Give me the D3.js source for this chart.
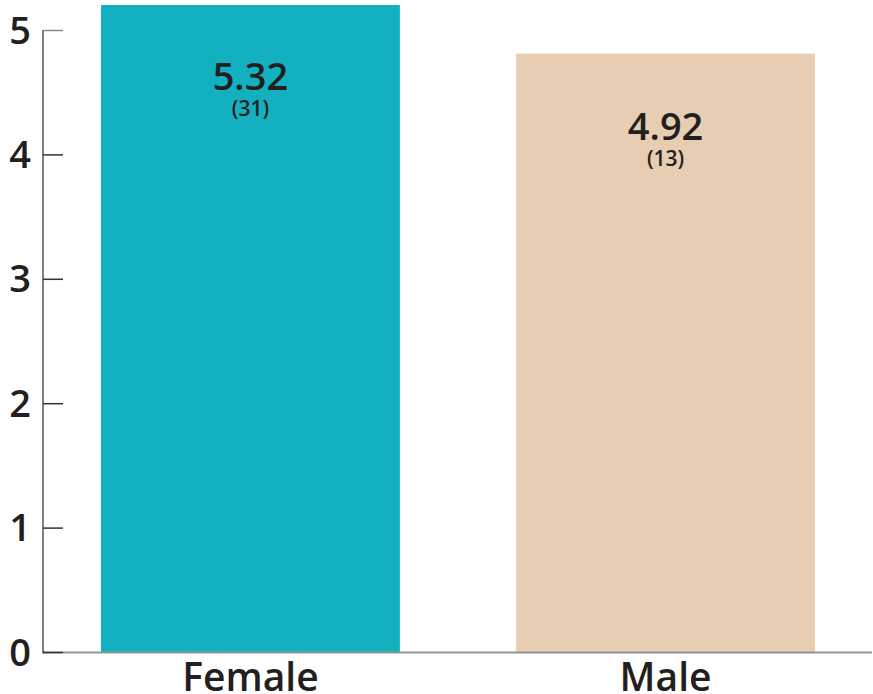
<!DOCTYPE html>
<html>
<head>
<meta charset="utf-8">
<script src="https://cdn.jsdelivr.net/npm/d3@7"></script>
<style>
  html, body { margin: 0; padding: 0; background: #fff; }
  svg { display: block; font-family: "Open Sans", "Noto Sans", sans-serif; }
</style>
</head>
<body>
<div id="chart"></div>
<script>
// data
const categories = ["Female", "Male"];
const means = [5.32, 4.92];
const counts = [31, 13];
const barColors = ["#13b1bf", "#e7cdb1"];
const yTicks = [0, 1, 2, 3, 4, 5];

const width = 873, height = 694;
const svg = d3.select("#chart").append("svg")
  .attr("width", width).attr("height", height);

const x = d3.scaleBand().domain(categories).range([101, 815]).paddingInner(0.28).paddingOuter(0);

// axis scale and bar scale differ slightly in the original
const yAxisScale = d3.scaleLinear().domain([0, 5]).range([652, 30]);
const yBar = d3.scaleLinear().domain([0, 5.32]).range([652, 5]);

// bars
svg.append("g").selectAll("rect")
  .data(categories)
  .join("rect")
  .attr("x", d => x(d))
  .attr("width", x.bandwidth())
  .attr("y", (d, i) => yBar(means[i]))
  .attr("height", (d, i) => yBar(0) - yBar(means[i]))
  .attr("fill", (d, i) => barColors[i]);

// value labels
const lbl = svg.append("g").attr("fill", "#231f20").attr("text-anchor", "middle");
lbl.selectAll("text.val")
  .data(categories)
  .join("text")
  .attr("class", "val")
  .attr("x", d => x(d) + x.bandwidth() / 2)
  .attr("y", (d, i) => yAxisScale(means[i]) + 100)
  .attr("font-size", 38)
  .attr("font-weight", 600)
  .text((d, i) => means[i].toFixed(2));
lbl.selectAll("text.cnt")
  .data(categories)
  .join("text")
  .attr("class", "cnt")
  .attr("x", d => x(d) + x.bandwidth() / 2)
  .attr("y", (d, i) => yAxisScale(means[i]) + 126)
  .attr("font-size", 21)
  .attr("font-weight", 600)
  .text((d, i) => `(${counts[i]})`);

// baseline
svg.append("line")
  .attr("x1", 43).attr("x2", 872)
  .attr("y1", yAxisScale(0) + 0.5).attr("y2", yAxisScale(0) + 0.5)
  .attr("stroke", "#939393").attr("stroke-width", 2);

// y axis
const yAxis = d3.axisRight(yAxisScale).tickValues(yTicks).tickSize(20).tickFormat("");
const gy = svg.append("g").attr("transform", "translate(43,0)").call(yAxis);
gy.select(".domain").attr("stroke", "#555").attr("stroke-width", 1.5)
  .attr("d", `M0,${yAxisScale(5)}V${yAxisScale(0) + 1.5}`);
gy.selectAll(".tick line").attr("stroke", (d) => d === 5 ? "#888" : "#333").attr("stroke-width", 1.5);

svg.append("g").attr("fill", "#231f20").attr("text-anchor", "end")
  .selectAll("text")
  .data(yTicks)
  .join("text")
  .attr("x", 31)
  .attr("y", d => yAxisScale(d))
  .attr("dy", "0.36em")
  .attr("font-size", 38)
  .attr("font-weight", 600)
  .text(d => d);

// category labels
svg.append("g").attr("fill", "#231f20").attr("text-anchor", "middle")
  .selectAll("text")
  .data(categories)
  .join("text")
  .attr("x", d => x(d) + x.bandwidth() / 2)
  .attr("y", 691)
  .attr("font-size", 39)
  .attr("font-weight", 600)
  .text(d => d);
</script>
</body>
</html>
